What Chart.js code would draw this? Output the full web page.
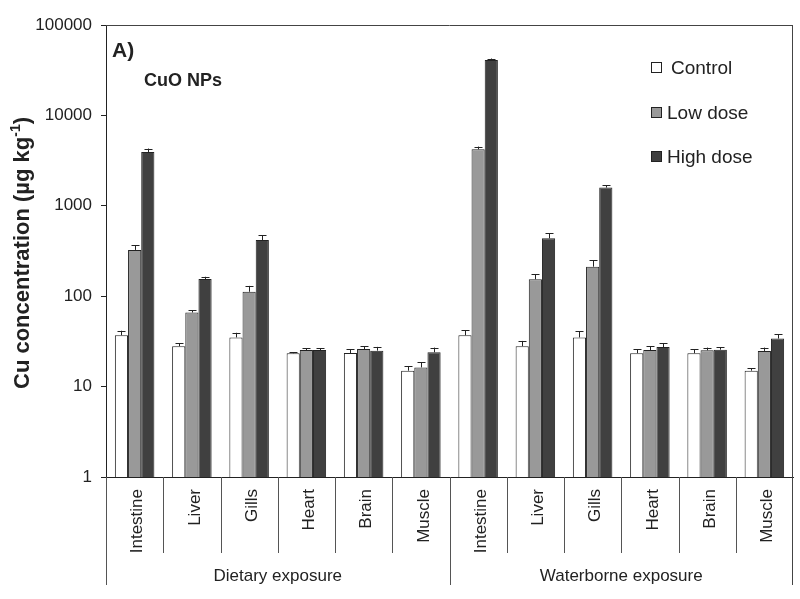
<!DOCTYPE html>
<html>
<head>
<meta charset="utf-8">
<script src="https://cdn.jsdelivr.net/npm/chart.js@4/dist/chart.umd.min.js"></script>
<style>
  html, body { margin: 0; padding: 0; background: #fff; }
  #wrap { width: 800px; height: 599px; position: relative; }
</style>
</head>
<body>
<div id="wrap"><canvas id="chart" width="800" height="599"></canvas></div>
<script>
// categories (organs) and exposure groups
const categories = ['Intestine', 'Liver', 'Gills', 'Heart', 'Brain', 'Muscle',
                    'Intestine', 'Liver', 'Gills', 'Heart', 'Brain', 'Muscle'];
const groups = ['Dietary exposure', 'Waterborne exposure'];
const groupSize = 6;

// Cu concentration (µg kg-1)
const controlVals = [37, 28, 35, 23.4, 23.5, 15, 37, 28, 35, 23.4, 23.4, 15];
const lowVals = [325, 66, 112, 25.4, 26, 16.3, 4220, 154, 212, 25.4, 25.2, 24.8];
const highVals = [3940, 155, 418, 25.4, 25, 24, 41000, 437, 1590, 27.4, 25.6, 34];

// upper error bars
const controlErr = [4.5, 2, 4.4, 0.5, 2.5, 1.9, 5, 4, 6, 2.6, 2.6, 1];
const lowErr = [40, 4, 18, 1, 2, 2.3, 300, 22, 38, 2.6, 1.8, 2.2];
const highErr = [360, 9, 57, 1, 2.5, 3, 1600, 58, 100, 2.6, 1.8, 4];

const yTicks = [1, 10, 100, 1000, 10000, 100000];

const ink = '#222';
const fontName = '"Liberation Sans", Arial, sans-serif';

// error bars + separators + texts
const extras = {
  id: 'extras',
  afterDatasetsDraw(chart) {
    const ctx = chart.ctx;
    const y = chart.scales.y;
    const area = chart.chartArea;
    const errs = [controlErr, lowErr, highErr];
    ctx.save();
    ctx.strokeStyle = ink;
    ctx.lineWidth = 1;
    chart.data.datasets.forEach((ds, i) => {
      const meta = chart.getDatasetMeta(i);
      meta.data.forEach((bar, j) => {
        const top = y.getPixelForValue(ds.data[j] + errs[i][j]);
        const bx = Math.round(bar.x) + 0.5;
        ctx.beginPath();
        ctx.moveTo(bx, bar.y);
        ctx.lineTo(bx, top);
        ctx.moveTo(bx - 4, Math.round(top) + 0.5);
        ctx.lineTo(bx + 4, Math.round(top) + 0.5);
        ctx.stroke();
      });
    });

    // frame top and right
    ctx.strokeStyle = '#444';
    ctx.beginPath();
    ctx.moveTo(area.left, area.top + 0.5);
    ctx.lineTo(area.right, area.top + 0.5);
    ctx.moveTo(area.right - 0.5, area.top);
    ctx.lineTo(area.right - 0.5, area.bottom + 108);
    ctx.stroke();

    // separators under the axis
    const step = (area.right - area.left) / categories.length;
    ctx.strokeStyle = '#555';
    for (let k = 0; k < categories.length; k++) {
      const sx = Math.round(area.left + k * step) + 0.5;
      const long = k % groupSize === 0;
      ctx.beginPath();
      ctx.moveTo(sx, area.bottom);
      ctx.lineTo(sx, area.bottom + (long ? 108 : 76));
      ctx.stroke();
    }

    ctx.fillStyle = ink;
    ctx.textAlign = 'center';
    ctx.textBaseline = 'middle';
    ctx.font = '17px ' + fontName;
    groups.forEach((g, k) => {
      const gx = area.left + (k + 0.5) * groupSize * step;
      ctx.fillText(g, gx, area.bottom + 99);
    });

    // y title with superscript
    ctx.save();
    ctx.translate(29, (area.top + area.bottom) / 2 + 2);
    ctx.rotate(-Math.PI / 2);
    ctx.textBaseline = 'alphabetic';
    const t1 = 'Cu concentration (µg kg';
    ctx.font = 'bold 14px ' + fontName;
    const wSup = ctx.measureText('-1').width;
    ctx.font = 'bold 22px ' + fontName;
    const w1 = ctx.measureText(t1).width;
    const w3 = ctx.measureText(')').width;
    let tx = -(w1 + wSup + w3) / 2;
    ctx.textAlign = 'left';
    ctx.fillText(t1, tx, 0);
    tx += w1;
    ctx.font = 'bold 14px ' + fontName;
    ctx.fillText('-1', tx, -9);
    tx += wSup;
    ctx.font = 'bold 22px ' + fontName;
    ctx.fillText(')', tx, 0);
    ctx.restore();

    // panel labels
    ctx.textAlign = 'left';
    ctx.textBaseline = 'alphabetic';
    ctx.font = 'bold 21px ' + fontName;
    ctx.fillText('A)', 112, 57);
    ctx.font = 'bold 18px ' + fontName;
    ctx.fillText('CuO NPs', 144, 86);

    // legend
    const legY = [68, 113, 157];
    const textX = [671, 667, 667];
    ctx.font = '19px ' + fontName;
    ctx.textBaseline = 'middle';
    chart.data.datasets.forEach((ds, i) => {
      ctx.fillStyle = ds.backgroundColor;
      ctx.fillRect(651.5, legY[i] - 5.5, 10, 10);
      ctx.strokeStyle = ink;
      ctx.strokeRect(651.5, legY[i] - 5.5, 10, 10);
      ctx.fillStyle = ink;
      ctx.fillText(ds.label, textX[i], legY[i] + 1);
    });
    ctx.restore();
  }
};

new Chart(document.getElementById('chart'), {
  type: 'bar',
  data: {
    labels: categories,
    datasets: [
      { label: 'Control', data: controlVals, backgroundColor: '#ffffff' },
      { label: 'Low dose', data: lowVals, backgroundColor: '#999999' },
      { label: 'High dose', data: highVals, backgroundColor: '#404040' }
    ]
  },
  options: {
    responsive: false,
    animation: false,
    devicePixelRatio: 1,
    layout: { padding: { top: 25, right: 7, left: 0, bottom: 0 } },
    datasets: {
      bar: {
        borderColor: ink,
        borderWidth: 1,
        categoryPercentage: 0.69,
        barPercentage: 1.0
      }
    },
    plugins: {
      legend: { display: false },
      tooltip: { enabled: false }
    },
    scales: {
      x: {
        grid: { display: false },
        border: { display: true, color: ink, width: 1 },
        ticks: {
          autoSkip: false,
          minRotation: 90,
          maxRotation: 90,
          padding: 4,
          labelOffset: 3,
          color: ink,
          font: { family: fontName, size: 17 }
        },
        afterFit(scale) { scale.height = 122; }
      },
      y: {
        type: 'logarithmic',
        min: 1,
        max: 100000,
        grid: { display: true, drawOnChartArea: false, drawTicks: true, tickLength: 5, color: ink },
        border: { display: true, color: ink, width: 1 },
        afterBuildTicks(scale) {
          scale.ticks = yTicks.map(v => ({ value: v }));
        },
        ticks: {
          padding: 9,
          color: ink,
          font: { family: fontName, size: 17 },
          callback: v => String(v)
        },
        afterFit(scale) { scale.width = 106; }
      }
    }
  },
  plugins: [extras]
});
</script>
</body>
</html>
